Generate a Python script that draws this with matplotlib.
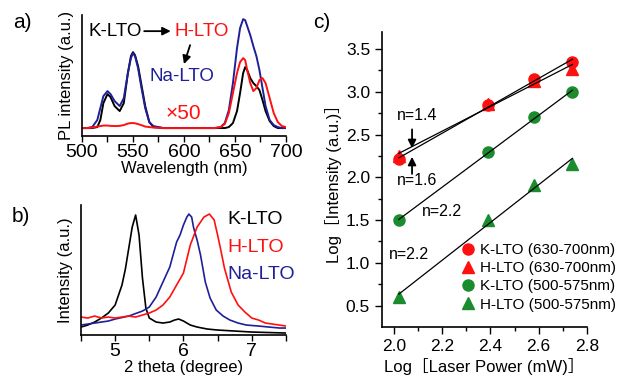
import matplotlib
matplotlib.use("Agg")
import matplotlib.pyplot as plt
import numpy as np

plt.rcParams['font.family'] = ['Liberation Sans', 'Noto Sans CJK JP', 'DejaVu Sans']

BLUE = '#1f1f99'
RED = '#ff1010'
GREEN = '#1a8c2e'

# a) PL spectra (heights, arbitrary units)
wl = [500, 505, 510, 515, 518, 521, 525, 528, 532, 537, 541, 545, 548, 550, 552, 555, 558,
      562, 566, 570, 580, 600, 620, 630, 636, 640, 644, 648, 652, 655, 658, 660, 662, 665,
      668, 671, 674, 677, 680, 684, 688, 692, 696, 700]
pl_na = [0, 0, 1, 8, 20, 32, 37, 34, 27, 22, 30, 55, 70, 75, 72, 60, 42,
         20, 6, 2, 0, 0, 0, 0, 1, 5, 18, 45, 80, 100, 109, 108, 102, 93,
         82, 72, 58, 40, 22, 8, 3, 1, 0, 0]
pl_k = [0, 0, 0, 1, 8, 25, 34, 31, 22, 17, 25, 55, 72, 76, 73, 62, 45,
        22, 6, 1, 0, 0, 0, 0, 0, 0, 1, 5, 17, 35, 55, 61, 58, 50,
        45, 42, 38, 28, 17, 7, 2, 0, 0, 0]
pl_h = [0, 0, 0.5, 1.5, 2, 2.5, 2.5, 2.2, 2, 2.2, 3, 4.5, 5, 5, 4.8, 4, 3,
        1.5, 1, 0.5, 0, 0, 0, 0, 1, 4, 15, 35, 55, 66, 70, 68, 58, 45,
        37, 40, 48, 50, 45, 30, 15, 6, 2, 1]

# b) XRD patterns
tt_k = [4.5, 4.6, 4.7, 4.8, 4.9, 5.0, 5.1, 5.15, 5.2, 5.25, 5.3, 5.35, 5.4, 5.45, 5.5,
        5.6, 5.7, 5.8, 5.87, 5.93, 6.0, 6.05, 6.1, 6.2, 6.35, 6.5, 6.75, 7.0, 7.25, 7.5]
xrd_k = [8, 10, 13, 17, 22, 30, 50, 66, 87, 108, 120, 100, 57, 27, 17,
         13, 12, 13, 15, 16, 14, 12, 10, 8, 6, 5, 4, 3, 2.5, 2]
tt_na = [4.5, 4.7, 4.9, 5.0, 5.2, 5.4, 5.5, 5.6, 5.7, 5.8, 5.9, 5.95, 6.0, 6.05, 6.08,
         6.12, 6.15, 6.2, 6.25, 6.32, 6.39, 6.48, 6.58, 6.68, 6.8, 6.92, 7.1, 7.25, 7.41, 7.5]
xrd_na = [10, 12, 14, 16, 19, 24, 28, 38, 53, 68, 93, 100, 110, 118, 121,
          118, 107, 95, 80, 53, 37, 25, 19, 15, 12, 10, 9, 8, 7, 7]
tt_h = [4.5, 4.6, 4.7, 4.8, 4.9, 5.0, 5.1, 5.2, 5.3, 5.4, 5.5, 5.6, 5.7, 5.8, 5.9,
        6.0, 6.1, 6.2, 6.3, 6.38, 6.45, 6.5, 6.55, 6.6, 6.7, 6.8, 6.9, 7.0, 7.1, 7.2, 7.3, 7.4, 7.5]
xrd_h = [18, 17, 19, 17, 18, 17, 18, 19, 18, 20, 22, 25, 30, 38, 50,
         62, 90, 108, 118, 121, 115, 100, 84, 67, 43, 30, 23, 17, 15, 12, 11, 10, 9]

# c) power dependence
log_p = [2.02, 2.39, 2.58, 2.74]
k_red = [2.21, 2.845, 3.145, 3.35]
h_red = [2.25, 2.86, 3.12, 3.27]
k_green = [1.5, 2.29, 2.70, 3.0]
h_green = [0.6, 1.5, 1.915, 2.16]

fig = plt.figure(figsize=(6.21, 3.79), dpi=100)

arrow = dict(arrowstyle='-|>', color='black', lw=1.3, mutation_scale=12,
             shrinkA=0, shrinkB=0)


def clean(ax):
    ax.spines['top'].set_visible(False)
    ax.spines['right'].set_visible(False)
    for s in ('left', 'bottom'):
        ax.spines[s].set_linewidth(1.2)


# ---- a)
ax1 = fig.add_axes([0.132, 0.641, 0.3285, 0.319])
clean(ax1)
ax1.plot(wl, np.array(pl_k) / 100, color='black', lw=1.4)
ax1.plot(wl, np.array(pl_na) / 100, color=BLUE, lw=1.4)
ax1.plot(wl, np.array(pl_h) / 100, color=RED, lw=1.4)
ax1.set_xlim(500, 700)
ax1.set_ylim(-0.08, 1.13)
ax1.set_xticks([500, 550, 600, 650, 700])
ax1.set_xticks(np.arange(500, 701, 25), minor=True)
ax1.set_yticks([])
ax1.tick_params(axis='x', which='both', length=4, direction='out', width=1.0,
                labelsize=14, pad=2)
ax1.set_xlabel('Wavelength (nm)', fontsize=12, labelpad=0)
ax1.set_ylabel('PL intensity (a.u.)', fontsize=12, labelpad=6)
ax1.text(506, 0.97, 'K-LTO', color='black', fontsize=13.5, va='center')
ax1.text(591, 0.97, 'H-LTO', color=RED, fontsize=13.5, va='center')
ax1.annotate('', xy=(587, 0.97), xytext=(561, 0.97), arrowprops=arrow)
ax1.annotate('', xy=(600, 0.64), xytext=(606, 0.83), arrowprops=arrow)
ax1.text(566, 0.52, 'Na-LTO', color=BLUE, fontsize=13.5, va='center')
ax1.text(582, 0.15, '×50', color=RED, fontsize=15, va='center')

# ---- b)
ax2 = fig.add_axes([0.1304, 0.116, 0.33, 0.343])
clean(ax2)
ax2.plot(tt_k, xrd_k, color='black', lw=1.2)
ax2.plot(tt_na, xrd_na, color=BLUE, lw=1.2)
ax2.plot(tt_h, xrd_h, color=RED, lw=1.2)
ax2.set_xlim(4.5, 7.5)
ax2.set_ylim(0, 130)
ax2.set_xticks([5, 6, 7])
ax2.set_xticks([4.5, 5, 5.5, 6, 6.5, 7, 7.5], minor=True)
ax2.set_yticks([])
ax2.tick_params(axis='x', which='both', length=4, direction='out', width=1.0,
                labelsize=14, pad=2)
ax2.set_xlabel('2 theta (degree)', fontsize=12, labelpad=0)
ax2.set_ylabel('Intensity (a.u.)', fontsize=12, labelpad=6)
ax2.text(6.65, 116, 'K-LTO', color='black', fontsize=14, va='center')
ax2.text(6.65, 88, 'H-LTO', color=RED, fontsize=14, va='center')
ax2.text(6.65, 61, 'Na-LTO', color=BLUE, fontsize=14, va='center')

# ---- c)
ax3 = fig.add_axes([0.615, 0.137, 0.33, 0.779])
clean(ax3)
for ys in (k_red, h_red, k_green, h_green):
    a, b = np.polyfit(log_p, ys, 1)
    xs = np.array([log_p[0], log_p[-1]])
    ax3.plot(xs, a * xs + b, color='black', lw=0.9, zorder=3)
ax3.plot(log_p, k_red, 'o', color=RED, ms=8, label='K-LTO (630-700nm)', zorder=2)
ax3.plot(log_p, h_red, '^', color=RED, ms=9, label='H-LTO (630-700nm)', zorder=2)
ax3.plot(log_p, k_green, 'o', color=GREEN, ms=8, label='K-LTO (500-575nm)', zorder=2)
ax3.plot(log_p, h_green, '^', color=GREEN, ms=9, label='H-LTO (500-575nm)', zorder=2)
ax3.set_xlim(1.95, 2.8)
ax3.set_ylim(0.25, 3.7)
ax3.set_xticks([2.0, 2.2, 2.4, 2.6, 2.8])
ax3.set_xticks(np.arange(2.0, 2.81, 0.1), minor=True)
ax3.set_yticks([0.5, 1.0, 1.5, 2.0, 2.5, 3.0, 3.5])
ax3.set_yticks(np.arange(0.5, 3.6, 0.25), minor=True)
ax3.tick_params(which='major', length=5, direction='out', width=1.0, labelsize=12.5)
ax3.tick_params(which='minor', length=3, direction='out', width=1.0)
ax3.set_xlabel('Log［Laser Power (mW)］', fontsize=12, labelpad=3)
ax3.set_ylabel('Log［Intensity (a.u.)］', fontsize=12, labelpad=3)
ax3.text(2.012, 2.72, 'n=1.4', fontsize=11.5, va='center')
ax3.text(2.012, 1.965, 'n=1.6', fontsize=11.5, va='center')
ax3.text(2.117, 1.595, 'n=2.2', fontsize=11.5, va='center')
ax3.text(1.98, 1.093, 'n=2.2', fontsize=11.5, va='center')
ax3.annotate('', xy=(2.075, 2.34), xytext=(2.075, 2.56), arrowprops=arrow)
ax3.annotate('', xy=(2.075, 2.24), xytext=(2.075, 2.04), arrowprops=arrow)
ax3.legend(loc='upper left', frameon=False, fontsize=11, handletextpad=0.1,
           handlelength=1.25, labelspacing=0.27, borderaxespad=0.0,
           bbox_to_anchor=(0.346, 0.305))

fig.text(0.021, 0.94, 'a)', fontsize=15, va='center')
fig.text(0.019, 0.43, 'b)', fontsize=15, va='center')
fig.text(0.505, 0.94, 'c)', fontsize=15, va='center')

fig.savefig('out.png', dpi=100)
